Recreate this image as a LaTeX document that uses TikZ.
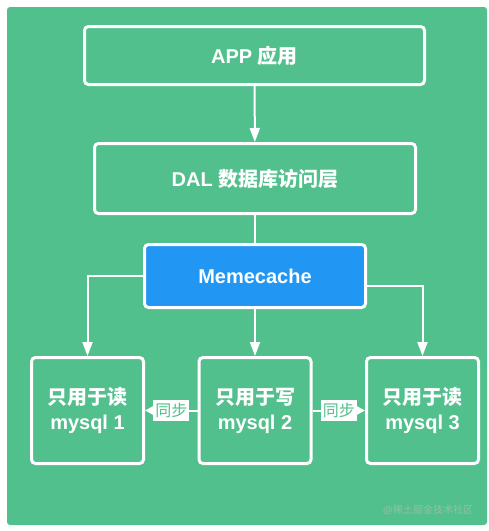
\documentclass[tikz,border=0pt]{standalone}
\usepackage{fontspec}
\setmainfont{Liberation Sans}
\newfontfamily\cjk{Noto Sans CJK SC}
\usetikzlibrary{arrows.meta,positioning,calc}
\definecolor{bggreen}{RGB}{82,192,140}
\definecolor{cacheblue}{RGB}{33,150,243}
\definecolor{markgray}{RGB}{150,190,168}
\newcommand{\zh}[1]{{\cjk #1}}
\tikzset{
  layerbox/.style={draw=white, line width=3pt, rounded corners=4pt, text=white, align=center,
    font=\fontsize{20}{25}\selectfont\bfseries},
  dbbox/.style={layerbox, minimum width=112pt, minimum height=106pt},
  link/.style={draw=white, line width=2pt, -{Triangle[length=14pt,width=10pt]}},
  syncarrow/.style={draw=white, line width=2pt, -{Triangle[length=8pt,width=8pt]}},
  synclabel/.style={fill=white, text=bggreen, inner xsep=2pt, inner ysep=3pt, font=\fontsize{16}{18}\selectfont}
}
\begin{document}
\begin{tikzpicture}[x=1pt, y=-1pt]
  \useasboundingbox (0,0) rectangle (489,531);
  \fill[bggreen, rounded corners=3pt] (7,7) rectangle (487,525);

  \node[layerbox, minimum width=340pt, minimum height=58pt] (app) at (254.5,55.5) {APP \zh{应用}};
  \node[layerbox, minimum width=321pt, minimum height=70pt] (dal) at (255,178.5) {DAL \zh{数据库访问层}};
  \node[layerbox, fill=cacheblue, minimum width=221pt, minimum height=63pt] (cache) at (255,276) {Memecache};

  \node[dbbox] (mysqla) at (87.5,410.5) {\zh{只用于读}\\mysql 1};
  \node[dbbox] (mysqlb) at (255,410.5) {\zh{只用于写}\\mysql 2};
  \node[dbbox] (mysqlc) at (422.5,410.5) {\zh{只用于读}\\mysql 3};

  \draw[link] (app) -- (dal);
  \draw[white, line width=2pt] (dal) -- (cache);
  \draw[link] (cache.west) -| (mysqla.north);
  \draw[link] (cache) -- (mysqlb);
  \draw[link] ($(cache.east)+(0,10)$) -| (mysqlc.north);

  % master to replicas
  \draw[syncarrow] (mysqlb) -- node[synclabel] {\zh{同步}} (mysqla);
  \draw[syncarrow] (mysqlb) -- node[synclabel] {\zh{同步}} (mysqlc);

  \node[text=markgray, font=\fontsize{10}{12}\selectfont] (mark) at (428,510) {@\zh{稀土掘金技术社区}};
\end{tikzpicture}
\end{document}
